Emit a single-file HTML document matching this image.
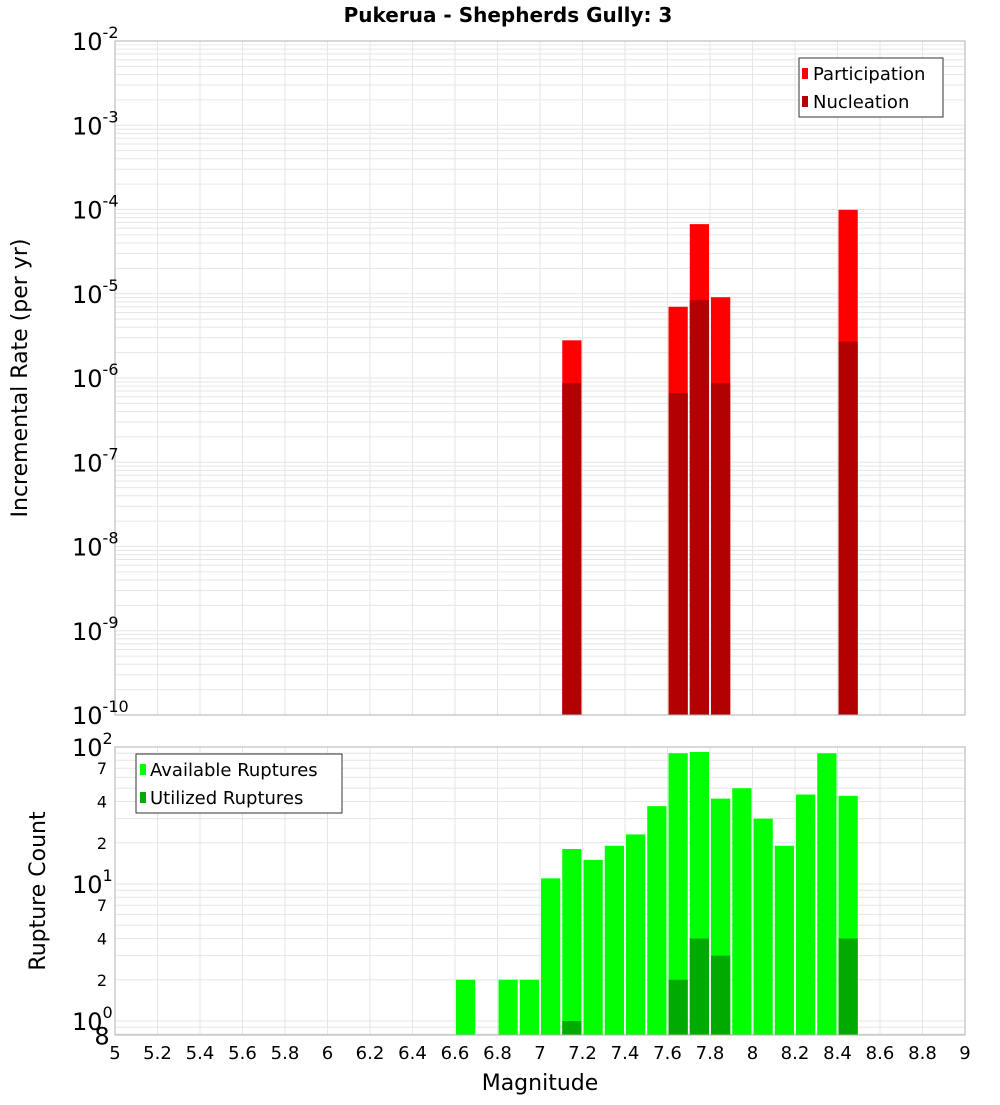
<!DOCTYPE html>
<html><head><meta charset="utf-8"><style>
html,body{margin:0;padding:0;background:#fff;}
svg text{font-family:"DejaVu Sans","Liberation Sans",sans-serif;fill:#000;}
</style></head><body>
<svg id="chart" width="1000" height="1100" xmlns="http://www.w3.org/2000/svg">
<text x="508" y="22" text-anchor="middle" font-size="20" font-weight="bold">Pukerua - Shepherds Gully: 3</text>
<g id="topPlot"></g><g id="botPlot"></g>
</svg>
<script>
const binStarts = [6.6,6.8,6.9,7.0,7.1,7.2,7.3,7.4,7.5,7.6,7.7,7.8,7.9,8.0,8.1,8.2,8.3,8.4];
const availableCounts = [2,2,2,11,18,15,19,23,37,90,92,42,50,30,19,45,90,44];
const utilizedBins = [7.1,7.6,7.7,7.8,8.4];
const utilizedCounts = [1,2,4,3,4];
const rateBins = [7.1,7.6,7.7,7.8,8.4];
const participationRates = [2.8e-6,7e-6,6.7e-5,9.1e-6,9.9e-5];
const nucleationRates = [8.7e-7,6.6e-7,8.4e-6,8.7e-7,2.7e-6];
const xTicks = [5,5.2,5.4,5.6,5.8,6,6.2,6.4,6.6,6.8,7,7.2,7.4,7.6,7.8,8,8.2,8.4,8.6,8.8,9];
const topDecades = [-2,-3,-4,-5,-6,-7,-8,-9,-10];
const botMinorLabels = [[7,'7'],[4,'4'],[2,'2'],[70,'7'],[40,'4'],[20,'2'],[0.8,'8']];

const NS='http://www.w3.org/2000/svg';
const L=115,R=965;
const xs=m=>L+(m-5)*(R-L)/4;
const T0=41,T1=715;
const ty=v=>T0+(-2-Math.log10(v))*(T1-T0)/8;
const B0=747,B1=1035;
const by=v=>1021-137*Math.log10(v);
function mk(p,tag,a,name,txt){const e=document.createElementNS(NS,tag);for(const k in a)e.setAttribute(k,a[k]);


if(txt!==undefined)e.textContent=txt;p.appendChild(e);return e;}
const topG=document.getElementById('topPlot'),botG=document.getElementById('botPlot');

function grid(g,y0,y1,yfun,vals){
  for(let m=5;m<=9.001;m+=0.2){const x=xs(m);mk(g,'line',{x1:x,x2:x,y1:y0,y2:y1,stroke:'#e6e6e6'},'x-gridline');}
  vals.forEach(v=>{const y=yfun(v);if(y>=y0-0.5&&y<=y1+0.5)mk(g,'line',{x1:L,x2:R,y1:y,y2:y,stroke:'#e6e6e6'},'y-gridline');});
}
mk(topG,'rect',{x:L,y:T0,width:R-L,height:T1-T0,fill:'#fff'},'top-plot-area');
let tv=[];for(let d=-10;d<-2;d++)for(let k=1;k<10;k++)tv.push(k*Math.pow(10,d));tv.push(1e-2);
grid(topG,T0,T1,ty,tv);
rateBins.forEach((b,i)=>{
  const x=xs(b)+1,w=xs(b+0.1)-xs(b)-2;
  mk(topG,'rect',{x:x,y:ty(participationRates[i]),width:w,height:T1-ty(participationRates[i]),fill:'#ff0000'},'participation-bar');
  mk(topG,'rect',{x:x,y:ty(nucleationRates[i]),width:w,height:T1-ty(nucleationRates[i]),fill:'#b30000'},'nucleation-bar');
});
mk(topG,'rect',{x:L,y:T0,width:R-L,height:T1-T0,fill:'none',stroke:'#b0b0b0'},'top-plot-border');
topDecades.forEach(d=>{const y=ty(Math.pow(10,d));
  const t=mk(topG,'text',{x:72,y:y+9,'font-size':24},'top-y-tick-label');
  t.textContent='10';const s=document.createElementNS(NS,'tspan');s.setAttribute('font-size','16');s.setAttribute('dy','-12');s.textContent=String(d);t.appendChild(s);});
mk(topG,'text',{x:27,y:378,'font-size':22,'text-anchor':'middle',transform:'rotate(-90 27 378)'},'top-y-axis-title','Incremental Rate (per yr)');
const lg=mk(topG,'g',{},'top-legend');
mk(lg,'rect',{x:799,y:58,width:144,height:59,fill:'#fff',stroke:'#333'},'legend-box');
mk(lg,'rect',{x:802,y:68,width:6,height:11,fill:'#ff0000'},'legend-swatch-participation');
mk(lg,'text',{x:813,y:80,'font-size':18},'legend-participation','Participation');
mk(lg,'rect',{x:802,y:96,width:6,height:11,fill:'#b30000'},'legend-swatch-nucleation');
mk(lg,'text',{x:813,y:108,'font-size':18},'legend-nucleation','Nucleation');

mk(botG,'rect',{x:L,y:B0,width:R-L,height:B1-B0,fill:'#fff'},'bottom-plot-area');
let bv=[0.8,0.9];for(let d=0;d<2;d++)for(let k=1;k<10;k++)bv.push(k*Math.pow(10,d));bv.push(100);
grid(botG,B0,B1,by,bv);
binStarts.forEach((b,i)=>{const x=xs(b)+1,w=xs(b+0.1)-xs(b)-2;
  mk(botG,'rect',{x:x,y:by(availableCounts[i]),width:w,height:B1-by(availableCounts[i]),fill:'#00ff00'},'available-bar');});
utilizedBins.forEach((b,i)=>{const x=xs(b)+1,w=xs(b+0.1)-xs(b)-2;
  mk(botG,'rect',{x:x,y:by(utilizedCounts[i]),width:w,height:B1-by(utilizedCounts[i]),fill:'#00aa00'},'utilized-bar');});
mk(botG,'rect',{x:L,y:B0,width:R-L,height:B1-B0,fill:'none',stroke:'#b0b0b0'},'bottom-plot-border');
[0,1,2].forEach(d=>{const y=by(Math.pow(10,d));
  const t=mk(botG,'text',{x:72,y:y+9,'font-size':24},'bottom-y-tick-label');
  t.textContent='10';const s=document.createElementNS(NS,'tspan');s.setAttribute('font-size','16');s.setAttribute('dy','-12');s.textContent=String(d);t.appendChild(s);});
botMinorLabels.forEach(p=>{mk(botG,'text',{x:102,y:by(p[0])+(p[1]==='8'?10:6),'font-size':p[1]==='8'?24:16,'text-anchor':'middle'},'bottom-y-minor-label',p[1]);});
mk(botG,'text',{x:45,y:891,'font-size':22,'text-anchor':'middle',transform:'rotate(-90 45 891)'},'bottom-y-axis-title','Rupture Count');
const lg2=mk(botG,'g',{},'bottom-legend');
mk(lg2,'rect',{x:136,y:754,width:206,height:59,fill:'#fff',stroke:'#333'},'legend-box');
mk(lg2,'rect',{x:140,y:764,width:6,height:11,fill:'#00ff00'},'legend-swatch-available');
mk(lg2,'text',{x:150,y:776,'font-size':18},'legend-available','Available Ruptures');
mk(lg2,'rect',{x:140,y:792,width:6,height:11,fill:'#00aa00'},'legend-swatch-utilized');
mk(lg2,'text',{x:150,y:804,'font-size':18},'legend-utilized','Utilized Ruptures');
xTicks.forEach(m=>{mk(botG,'text',{x:xs(m),y:1059,'font-size':18,'text-anchor':'middle'},'x-tick-label',String(m));});
mk(botG,'text',{x:540,y:1090,'font-size':22,'text-anchor':'middle'},'x-axis-title','Magnitude');
</script>
</body></html>
